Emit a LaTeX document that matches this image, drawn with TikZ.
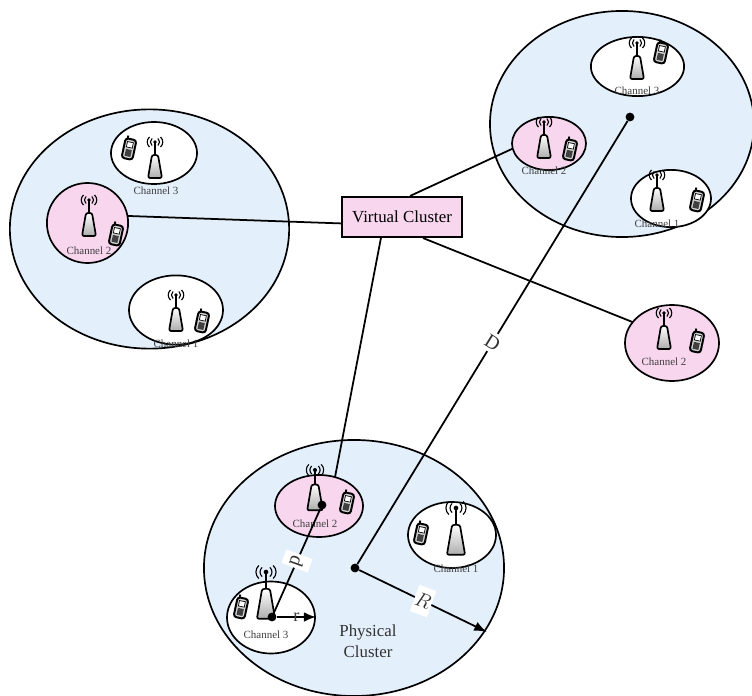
\documentclass[tikz,border=0pt]{standalone}
\usepackage{fontspec}
\setmainfont{Liberation Serif}
\usetikzlibrary{shapes.geometric,arrows.meta}
\definecolor{clusterblue}{RGB}{227,239,251}
\definecolor{channelpink}{RGB}{247,214,238}
\tikzset{
  cluster/.style={draw,ellipse,line width=1.2pt,fill=clusterblue,inner sep=0pt,outer sep=0pt},
  channel/.style={draw,ellipse,line width=1.2pt,fill=white,inner sep=0pt,outer sep=0pt},
  active/.style={channel,fill=channelpink},
  chlabel/.style={font=\fontsize{7.8}{9}\selectfont,text=black!75,inner sep=0pt},
  dot/.style={circle,fill=black,inner sep=0pt,minimum size=0.22cm},
  link/.style={line width=1.25pt},
  tag/.style={fill=white,inner sep=0pt,font=\fontsize{14}{15}\selectfont,text=black!80},
  tower/.pic={
    \draw[line width=1.2pt,top color=white,bottom color=gray!65,rounded corners=1.5pt]
      (-3,13) -- (3,13) -- (7,36) -- (-7,36) -- cycle;
    \draw[line width=1.2pt] (0,0) -- (0,13);
    \fill (0,0) circle (1.8);
    \draw[line width=0.8pt] (-3,-3.5) to[bend right=50] (-3,3.5) (3,-3.5) to[bend left=50] (3,3.5);
    \draw[line width=0.8pt] (-5.5,-5) to[bend right=50] (-5.5,5) (5.5,-5) to[bend left=50] (5.5,5);
  },
  phone/.pic={
    \begin{scope}[rotate=-12]
      \draw[line width=1.3pt] (-3.5,-10) -- (-3.5,-13);
      \draw[line width=1.4pt,fill=gray!35,rounded corners=2pt] (-5.5,-10) rectangle (5.5,10);
      \draw[line width=0.5pt,fill=white] (-3,-7) rectangle (3,-1.5);
      \fill[black!75] (-3,0.5) rectangle (3,7.5);
    \end{scope}
  }
}
\begin{document}
\begin{tikzpicture}[x=0.025cm,y=-0.025cm]
  \useasboundingbox (0,0) rectangle (752,696);
  % clusters
  \node[cluster,minimum width=6.98cm,minimum height=5.98cm] (left) at (149.5,229) {};
  \node[cluster,minimum width=6.6cm,minimum height=5.65cm] (right) at (622,124) {};
  \node[cluster,minimum width=7.5cm,minimum height=6.4cm] (bottom) at (354,568) {};
  % channels
  \node[channel,minimum width=2.15cm,minimum height=1.55cm] (left3) at (154,153) {};
  \node[active,minimum width=2.03cm,minimum height=2cm] (left2) at (87.5,223) {};
  \node[channel,minimum width=2.35cm,minimum height=1.73cm] (left1) at (176,310) {};
  \node[channel,minimum width=2.33cm,minimum height=1.48cm] (right3) at (637.5,66.5) {};
  \node[active,minimum width=1.85cm,minimum height=1.33cm] (right2) at (549,143.5) {};
  \node[channel,minimum width=2cm,minimum height=1.43cm] (right1) at (671,198.5) {};
  \node[active,minimum width=2.35cm,minimum height=1.9cm] (lone2) at (672,343) {};
  \node[active,minimum width=2.2cm,minimum height=1.55cm] (bottom2) at (319,506) {};
  \node[channel,minimum width=2.2cm,minimum height=1.65cm] (bottom1) at (452,535) {};
  \node[channel,minimum width=2.2cm,minimum height=1.8cm] (bottom3) at (271,617.5) {};
  % icons
  \pic at (155,142) {tower};
  \pic at (129,149) {phone};
  \pic at (89,200) {tower};
  \pic at (116,235) {phone};
  \pic at (176,295) {tower};
  \pic at (202,322) {phone};
  \pic at (637,43) {tower};
  \pic at (661,53) {phone};
  \pic at (544,122) {tower};
  \pic at (570,150) {phone};
  \pic at (657,175) {tower};
  \pic at (697,201) {phone};
  \pic at (664,313) {tower};
  \pic at (697,342) {phone};
  \pic[scale=1.12] at (315,470) {tower};
  \pic at (347,503) {phone};
  \pic[scale=1.3] at (456,508) {tower};
  \pic at (421,534) {phone};
  \pic[scale=1.3] at (266,572) {tower};
  \pic at (241,608) {phone};
  % labels
  \node[chlabel] (lab1) at (156,191) {Channel 3};
  \node[chlabel] (lab2) at (89,251) {Channel 2};
  \node[chlabel] (lab3) at (176,344) {Channel 1};
  \node[chlabel] (lab4) at (637,91) {Channel 3};
  \node[chlabel] (lab5) at (544,171) {Channel 2};
  \node[chlabel] (lab6) at (657,224) {Channel 1};
  \node[chlabel] (lab7) at (664,362) {Channel 2};
  \node[chlabel] (lab8) at (315,524) {Channel 2};
  \node[chlabel] (lab9) at (456,569) {Channel 1};
  \node[chlabel] (lab10) at (266,635) {Channel 3};
  \node[align=center,font=\fontsize{12}{15}\selectfont,text=black!80] (phys) at (368,641) {Physical\\Cluster};
  % virtual cluster
  \node[draw,fill=channelpink,line width=1.5pt,minimum width=3cm,minimum height=1cm,inner sep=0pt,font=\fontsize{12}{13}\selectfont] (vc) at (402,217) {Virtual Cluster};
  \draw[link] (left2.10) -- (vc.186);
  \draw[link] (vc.69) -- (right2.188);
  \draw[link] (vc.-45) -- (lone2.152);
  \draw[link] (vc.-135) -- (bottom2.61);
  % distances
  \node[dot] (far) at (630,117) {};
  \node[dot] (mid) at (355,568) {};
  \node[dot] (near) at (322,505) {};
  \node[dot] (own) at (272,617) {};
  \coordinate (redge) at (487,632);
  \coordinate (cedge) at (316,617);
  \draw[link] (far) -- node[tag,rotate=-32,minimum width=0.45cm,minimum height=0.5cm] (dlabel) {D} (mid);
  \draw[link] (near) -- node[tag,rotate=-110,minimum width=0.36cm,minimum height=0.7cm] (slabel) {d} (own);
  \draw[link,-{Latex[length=3.2mm,width=2.4mm]}] (mid) -- node[tag,rotate=-20,minimum width=0.45cm,minimum height=0.7cm] (rlabel) {$R$} (redge);
  \draw[link,-{Latex[length=3mm,width=2.4mm]}] (own) -- node[inner sep=0pt,font=\fontsize{13}{14}\selectfont,text=black!75] (clabel) {r} (cedge);
\end{tikzpicture}
\end{document}
